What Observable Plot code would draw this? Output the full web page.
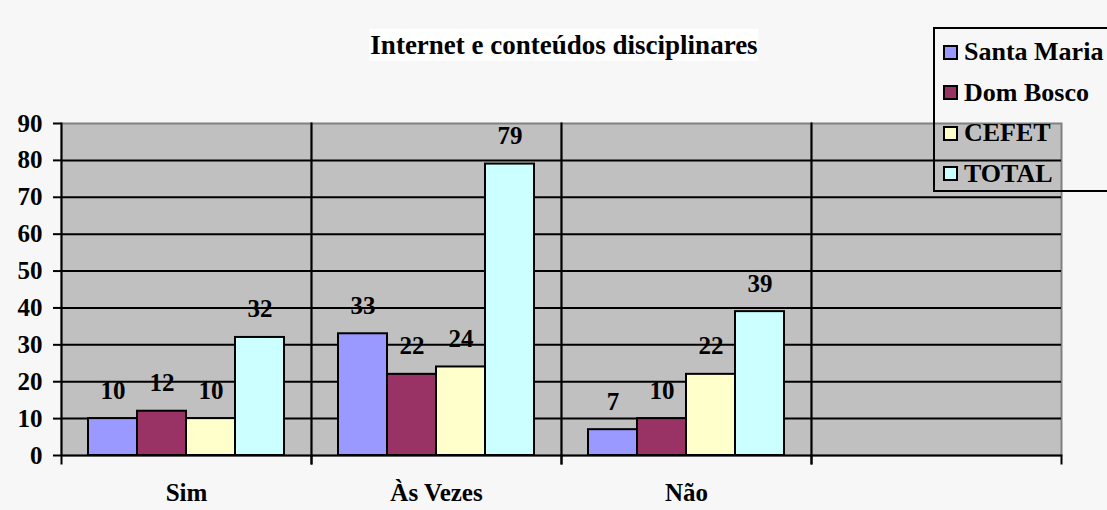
<!DOCTYPE html>
<html><head><meta charset="utf-8">
<script src="https://cdn.jsdelivr.net/npm/d3@7"></script>
<script src="https://cdn.jsdelivr.net/npm/@observablehq/plot@0.6"></script>
<style>
body{margin:0;background:#f7f7f7;font-family:"Liberation Serif","Times New Roman",serif;}
#wrap{position:relative;width:1107px;height:510px;overflow:hidden;}
#chart{position:absolute;left:0;top:0;}
#title{position:absolute;left:564px;top:29px;transform:translateX(-50%);font-weight:bold;font-size:27px;background:#fff;padding:0 1px;white-space:nowrap;line-height:32px;}
#legend{position:absolute;left:933px;top:27px;width:260px;height:161px;border:2px solid #000;}
.item{position:absolute;left:8px;height:30px;display:flex;align-items:center;font-weight:bold;font-size:26px;white-space:nowrap;}
.sw{width:11px;height:11px;border:2px solid #000;margin-right:6px;}
</style></head><body>
<div id="wrap"><div id="chart"></div><div id="title">Internet e conteúdos disciplinares</div><div id="legend"></div></div>
<script>
const categories = ["Sim", "Às Vezes", "Não", " "];
const series = ["Santa Maria", "Dom Bosco", "CEFET", "TOTAL"];
const santaMaria = [10, 33, 7];
const domBosco = [12, 22, 10];
const cefet = [10, 24, 22];
const total = [32, 79, 39];
const colors = ["#9999ff", "#993366", "#ffffcc", "#ccffff"];
const yTicks = [0, 10, 20, 30, 40, 50, 60, 70, 80, 90];

const valuesBySeries = [santaMaria, domBosco, cefet, total];
const data = [];
valuesBySeries.forEach((vals, si) => {
  vals.forEach((v, ci) => data.push({category: categories[ci], series: series[si], value: v}));
});
const gridData = categories.flatMap(c => yTicks.slice(0, -1).map(t => ({category: c, tick: t})));

const font = '"Liberation Serif","Times New Roman",serif';
const chart = Plot.plot({
  width: 1107, height: 510,
  marginTop: 123, marginBottom: 55, marginLeft: 60, marginRight: 45,
  style: {background: "transparent", fontFamily: font, fontSize: "25px", fontWeight: "bold", color: "black"},
  fx: {domain: categories, padding: 0, label: null},
  x: {domain: series, paddingInner: 0, paddingOuter: 0.51, axis: null},
  y: {domain: [0, 90], label: null},
  color: {domain: series, range: colors},
  marks: [
    Plot.frame({fill: "#c0c0c0", stroke: "#808080", strokeWidth: 2}),
    Plot.ruleY(gridData, {fx: "category", y: "tick", stroke: "black", strokeWidth: 2}),
    Plot.frame({anchor: "left", insetBottom: -8, stroke: "black", strokeWidth: 2}),
    Plot.frame({anchor: "right", insetBottom: -8, insetTop: 332, stroke: "black", strokeWidth: 2}),
    Plot.barY(data, {fx: "category", x: "series", y: "value", fill: "series", stroke: "black", strokeWidth: 2}),
    Plot.text(data, {fx: "category", x: "series", y: "value", text: d => String(d.value), dy: -20, lineAnchor: "bottom", fontSize: 25, fontWeight: "bold", fill: "black"}),
    Plot.axisY({ticks: yTicks, tickSize: 8, tickPadding: 11, label: null, strokeWidth: 2}),
    Plot.axisFx({anchor: "bottom", tickSize: 0, tickPadding: 28, label: null, tickFormat: d => d.trim()})
  ]
});
document.getElementById("chart").appendChild(chart);

const legend = document.getElementById("legend");
series.forEach((s, i) => {
  const it = document.createElement("div");
  it.className = "item";
  it.style.top = (8 + i * 40.5) + "px";
  const sw = document.createElement("div");
  sw.className = "sw";
  sw.style.background = colors[i];
  const t = document.createElement("span");
  t.textContent = s;
  it.appendChild(sw); it.appendChild(t);
  legend.appendChild(it);
});
</script>
</body></html>
